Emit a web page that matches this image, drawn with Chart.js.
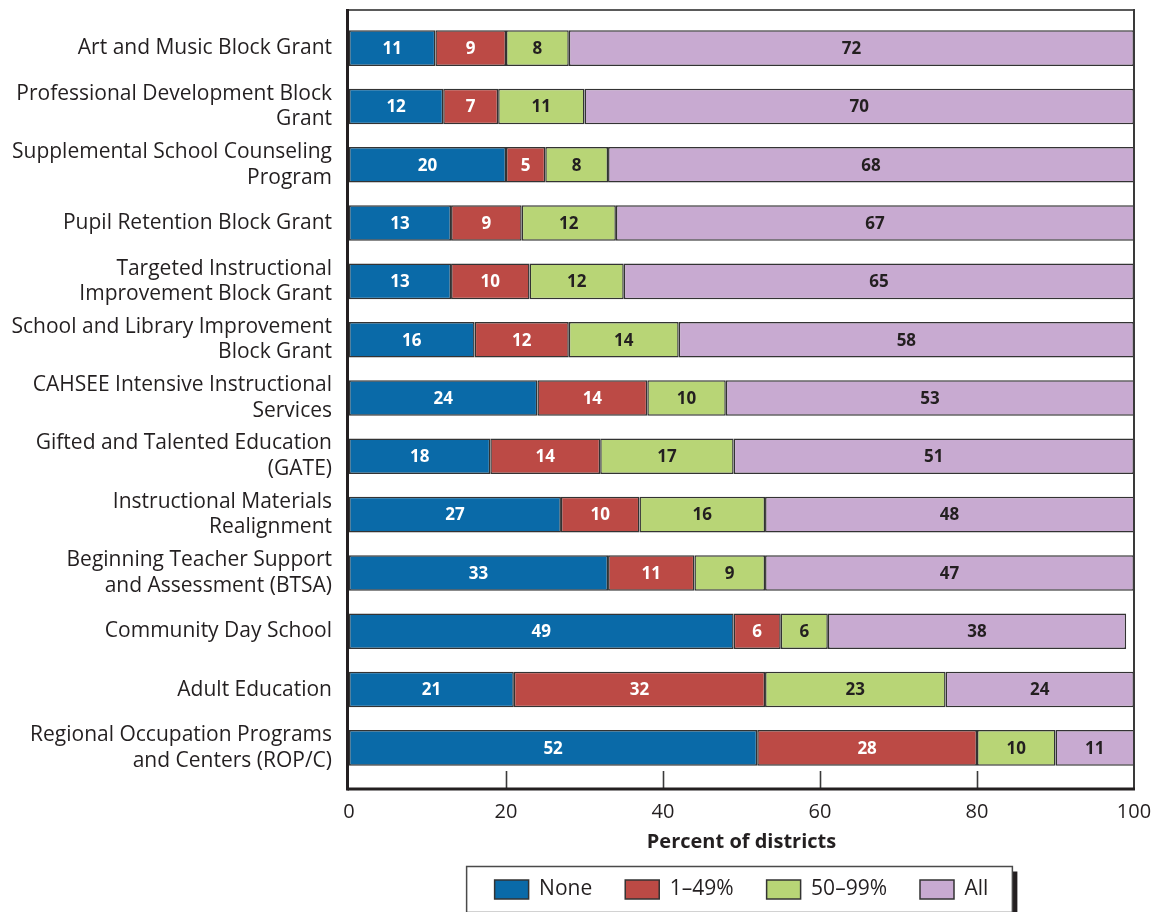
<!DOCTYPE html>
<html>
<head>
<meta charset="utf-8">
<title>Percent of districts by program</title>
<script src="https://cdn.jsdelivr.net/npm/chart.js@4.4.1/dist/chart.umd.min.js"></script>
<style>
  html, body { margin: 0; padding: 0; background: #ffffff; }
  #wrap { width: 1154px; height: 912px; position: relative; }
</style>
</head>
<body>
<div id="wrap"><canvas id="chart" width="1154" height="912"></canvas></div>
<script>
// Program names (each entry lists the lines of its wrapped label)
const categories = [
  ["Art and Music Block Grant"],
  ["Professional Development Block", "Grant"],
  ["Supplemental School Counseling", "Program"],
  ["Pupil Retention Block Grant"],
  ["Targeted Instructional", "Improvement Block Grant"],
  ["School and Library Improvement", "Block Grant"],
  ["CAHSEE Intensive Instructional", "Services"],
  ["Gifted and Talented Education", "(GATE)"],
  ["Instructional Materials", "Realignment"],
  ["Beginning Teacher Support", "and Assessment (BTSA)"],
  ["Community Day School"],
  ["Adult Education"],
  ["Regional Occupation Programs", "and Centers (ROP/C)"]
];

// Share of districts in each category (percent)
const noneValues = [11, 12, 20, 13, 13, 16, 24, 18, 27, 33, 49, 21, 52];
const lowValues  = [9, 7, 5, 9, 10, 12, 14, 14, 10, 11, 6, 32, 28];
const highValues = [8, 11, 8, 12, 12, 14, 10, 17, 16, 9, 6, 23, 10];
const allValues  = [72, 70, 68, 67, 65, 58, 53, 51, 48, 47, 38, 24, 11];

const seriesNames = ["None", "1\u201349%", "50\u201399%", "All"];
const xTicks = [0, 20, 40, 60, 80, 100];
const xTitle = "Percent of districts";

const INK = "#231f20";
const FONT = "'Open Sans', 'Noto Sans', sans-serif";
const fills = ["#0a6aa8", "#bc4a45", "#b8d576", "#c8aad1"];
const labelInk = ["#ffffff", "#ffffff", INK, INK];

// Frame around the plot plus inner tick marks along the bottom edge
const framePlugin = {
  id: "plotFrame",
  afterDatasetsDraw(chart) {
    const { ctx, chartArea: a, scales } = chart;
    const top = a.top - 9, bottom = a.bottom + 12;
    ctx.save();
    ctx.lineCap = "butt";
    // top edge
    ctx.strokeStyle = "#5a5a5a"; ctx.lineWidth = 2;
    ctx.beginPath(); ctx.moveTo(a.left, top); ctx.lineTo(a.right, top); ctx.stroke();
    // right edge
    ctx.strokeStyle = "#3a3a3a"; ctx.lineWidth = 2;
    ctx.beginPath(); ctx.moveTo(a.right, top - 1); ctx.lineTo(a.right, bottom); ctx.stroke();
    // inner ticks
    ctx.strokeStyle = "#3a3a3a"; ctx.lineWidth = 1.6;
    xTicks.slice(1, -1).forEach(v => {
      const x = Math.round(scales.x.getPixelForValue(v)) + 0.5;
      ctx.beginPath(); ctx.moveTo(x, bottom); ctx.lineTo(x, bottom - 18); ctx.stroke();
    });
    // bottom and left axes
    ctx.strokeStyle = INK; ctx.lineWidth = 3;
    ctx.beginPath(); ctx.moveTo(a.left - 1.5, bottom); ctx.lineTo(a.right + 1, bottom); ctx.stroke();
    ctx.beginPath(); ctx.moveTo(a.left - 1.5, top - 1); ctx.lineTo(a.left - 1.5, bottom + 1.5); ctx.stroke();
    ctx.restore();
  }
};

// Value printed in the middle of every segment
const valueLabelPlugin = {
  id: "segmentValues",
  afterDatasetsDraw(chart) {
    const { ctx, chartArea: a } = chart;
    ctx.save();
    ctx.font = "bold 17px " + FONT;
    ctx.textAlign = "center";
    ctx.textBaseline = "middle";
    chart.data.datasets.forEach((ds, di) => {
      const meta = chart.getDatasetMeta(di);
      meta.data.forEach((bar, i) => {
        const x1 = Math.min(bar.x, a.right), x0 = Math.min(bar.base, a.right);
        ctx.fillStyle = labelInk[di];
        ctx.fillText(String(ds.data[i]), (x0 + x1) / 2, bar.y + 1);
      });
    });
    ctx.restore();
  }
};

// Border and drop shadow around the legend entries
const legendBoxPlugin = {
  id: "legendBox",
  afterDraw(chart) {
    const lg = chart.legend;
    if (!lg || !lg.legendHitBoxes || !lg.legendHitBoxes.length) return;
    const hb = lg.legendHitBoxes;
    const first = hb[0], last = hb[hb.length - 1];
    const cy = first.top + first.height / 2;
    const left = first.left - 28, right = last.left + last.width + 24;
    const top = cy - 23, bottom = cy + 23;
    const { ctx } = chart;
    ctx.save();
    ctx.fillStyle = INK;
    ctx.fillRect(left + 5, bottom, right - left, 5);
    ctx.fillRect(right, top + 5, 5, bottom - top);
    ctx.strokeStyle = "#4a4a4a"; ctx.lineWidth = 1.5;
    ctx.strokeRect(left, top, right - left, bottom - top);
    ctx.restore();
  }
};

const seriesValues = [noneValues, lowValues, highValues, allValues];

new Chart(document.getElementById("chart"), {
  type: "bar",
  data: {
    labels: categories,
    datasets: seriesNames.map((name, k) => ({
      label: name,
      data: seriesValues[k],
      backgroundColor: fills[k],
      borderColor: "#333333",
      borderWidth: 1.5,
      borderSkipped: false,
      barPercentage: 0.61,
      categoryPercentage: 1.0
    }))
  },
  options: {
    indexAxis: "y",
    responsive: false,
    animation: false,
    devicePixelRatio: 1,
    layout: { padding: { top: 19, right: 20, bottom: 2, left: 0 } },
    scales: {
      x: {
        stacked: true,
        min: 0, max: 100,
        afterBuildTicks(s) { s.ticks = xTicks.map(v => ({ value: v })); },
        afterFit(s) { s.height = 69; s.paddingLeft = 0; s.paddingRight = 0; },
        grid: { display: false, drawTicks: false },
        border: { display: false },
        ticks: { color: INK, font: { family: FONT, size: 20 }, padding: 23, maxRotation: 0 },
        title: {
          display: true, text: xTitle, color: INK,
          font: { family: FONT, size: 20, weight: "bold" },
          padding: { top: 0, bottom: -8 }
        }
      },
      y: {
        stacked: true,
        afterFit(s) { s.width = 349; s.paddingTop = 0; s.paddingBottom = 0; },
        grid: { display: false, drawTicks: false },
        border: { display: false },
        ticks: { color: INK, font: { family: FONT, size: 21, lineHeight: 1.22 }, padding: 17, autoSkip: false }
      }
    },
    plugins: {
      legend: {
        position: "bottom",
        fullSize: false,
        labels: {
          boxWidth: 34, boxHeight: 19, padding: 33, color: INK,
          font: { family: FONT, size: 21 }
        }
      },
      tooltip: { enabled: false }
    }
  },
  plugins: [framePlugin, valueLabelPlugin, legendBoxPlugin]
});
</script>
</body>
</html>
